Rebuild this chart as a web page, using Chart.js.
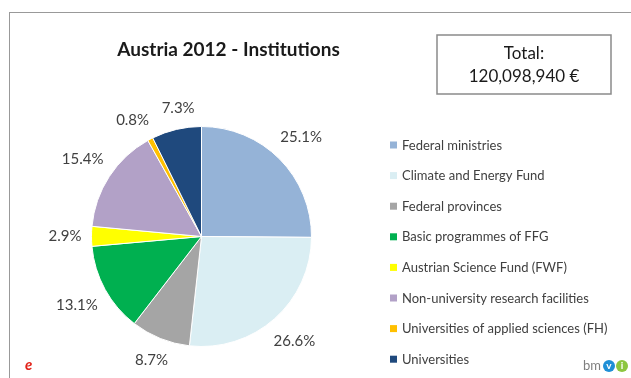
<!DOCTYPE html>
<html>
<head>
<meta charset="utf-8">
<script src="https://cdn.jsdelivr.net/npm/chart.js@4.4.0/dist/chart.umd.min.js"></script>
<style>
  html, body { margin: 0; padding: 0; background: #fff; }
  canvas { display: block; }
</style>
</head>
<body>
<canvas id="chartPie" width="631" height="378"></canvas>
<script>
const institutions = [
  "Federal ministries",
  "Climate and Energy Fund",
  "Federal provinces",
  "Basic programmes of FFG",
  "Austrian Science Fund (FWF)",
  "Non-university research facilities",
  "Universities of applied sciences (FH)",
  "Universities",
];
const shares = [25.1, 26.6, 8.7, 13.1, 2.9, 15.4, 0.8, 7.3];
const sliceColors = [
  "#95b3d7",
  "#daeef3",
  "#a5a5a5",
  "#00b050",
  "#ffff00",
  "#b2a1c7",
  "#ffc000",
  "#1f497d",
];
const chartTitle = "Austria 2012 - Institutions";
const totalLines = ["Total:", "120,098,940 €"];

const FONT = "Lato, 'Open Sans', sans-serif";
const TEXT = "#404040";

// position of a label box whose edge sits `gap` px outside the rim
function labelPos(p, angle, halfW, halfH, gap) {
  const cos = Math.cos(angle);
  const sin = Math.sin(angle);
  const r = p.outerRadius + gap + Math.abs(cos) * halfW + Math.abs(sin) * halfH;
  return { x: p.x + cos * r, y: p.y + sin * r };
}

// frame, title, total box, percentages, legend and logos
const decorations = {
  id: "decorations",
  beforeDraw(chart) {
    const ctx = chart.ctx;
    ctx.save();
    ctx.fillStyle = "#fff";
    ctx.fillRect(0, 0, chart.width, chart.height);
    ctx.strokeStyle = "#999";
    ctx.lineWidth = 1;
    ctx.strokeRect(9.5, 12.5, 700, 500);
    ctx.restore();
  },
  afterDraw(chart) {
    const ctx = chart.ctx;
    ctx.save();

    // title
    ctx.fillStyle = "#1a1a1a";
    ctx.font = "bold 19px " + FONT;
    ctx.textAlign = "center";
    ctx.textBaseline = "middle";
    ctx.fillText(chartTitle, 228.5, 50);

    // total box
    ctx.strokeStyle = "#8a8a8a";
    ctx.lineWidth = 1.5;
    ctx.strokeRect(437, 35, 174, 59);
    ctx.fillStyle = "#1a1a1a";
    ctx.font = "17px " + FONT;
    ctx.fillText(totalLines[0], 524, 54);
    ctx.fillText(totalLines[1], 524, 77);

    // percentage labels outside the slices
    const meta = chart.getDatasetMeta(0);
    ctx.font = "15px " + FONT;
    ctx.fillStyle = TEXT;
    const halfH = 8;
    const gap = 10;
    const items = meta.data.map((arc, i) => {
      const p = arc.getProps(["x", "y", "startAngle", "endAngle", "outerRadius"], true);
      const text = shares[i].toFixed(1) + "%";
      return { p, text, halfW: ctx.measureText(text).width / 2, angle: (p.startAngle + p.endAngle) / 2 };
    });
    // spread neighbours that would touch
    for (let iter = 0; iter < 100; iter++) {
      let moved = false;
      for (let i = 0; i < items.length - 1; i++) {
        const a = items[i];
        const b = items[i + 1];
        const pa = labelPos(a.p, a.angle, a.halfW, halfH, gap);
        const pb = labelPos(b.p, b.angle, b.halfW, halfH, gap);
        const overlapX = Math.abs(pa.x - pb.x) < a.halfW + b.halfW + 12;
        const overlapY = Math.abs(pa.y - pb.y) < halfH * 2 + 2;
        if (overlapX && overlapY) {
          a.angle -= 0.01;
          b.angle += 0.01;
          moved = true;
        }
      }
      if (!moved) break;
    }
    items.forEach((it) => {
      const pos = labelPos(it.p, it.angle, it.halfW, halfH, gap);
      ctx.fillText(it.text, pos.x, pos.y);
    });

    // legend
    ctx.textAlign = "left";
    ctx.font = "13px " + FONT;
    institutions.forEach((name, i) => {
      const y = 145 + i * 30.6;
      ctx.fillStyle = sliceColors[i];
      ctx.fillRect(390, y - 3.5, 7, 7);
      ctx.fillStyle = TEXT;
      ctx.fillText(name, 402, y + 0.5);
    });

    // logos
    ctx.fillStyle = "#e2231a";
    ctx.font = "italic bold 15px " + FONT;
    ctx.fillText("e", 25, 365);
    ctx.fillStyle = "#7f7f7f";
    ctx.font = "13px " + FONT;
    ctx.fillText("bm", 583, 366);
    ctx.fillStyle = "#1f8fd6";
    ctx.beginPath();
    ctx.arc(609, 366, 6, 0, Math.PI * 2);
    ctx.fill();
    ctx.fillStyle = "#8dc63f";
    ctx.beginPath();
    ctx.arc(622, 366, 6, 0, Math.PI * 2);
    ctx.fill();
    ctx.fillStyle = "#fff";
    ctx.font = "bold 10px " + FONT;
    ctx.textAlign = "center";
    ctx.fillText("v", 609, 366);
    ctx.fillText("i", 622, 366);

    ctx.restore();
  },
};

const ctx = document.getElementById("chartPie").getContext("2d");
new Chart(ctx, {
  type: "pie",
  data: {
    labels: institutions,
    datasets: [
      {
        data: shares,
        backgroundColor: sliceColors,
        borderColor: "#fff",
        borderWidth: 1,
      },
    ],
  },
  options: {
    responsive: false,
    animation: false,
    devicePixelRatio: 1,
    layout: {
      padding: { left: 91, right: 319, top: 126, bottom: 31 },
    },
    plugins: {
      legend: { display: false },
      tooltip: { enabled: false },
    },
  },
  plugins: [decorations],
});
</script>
</body>
</html>
